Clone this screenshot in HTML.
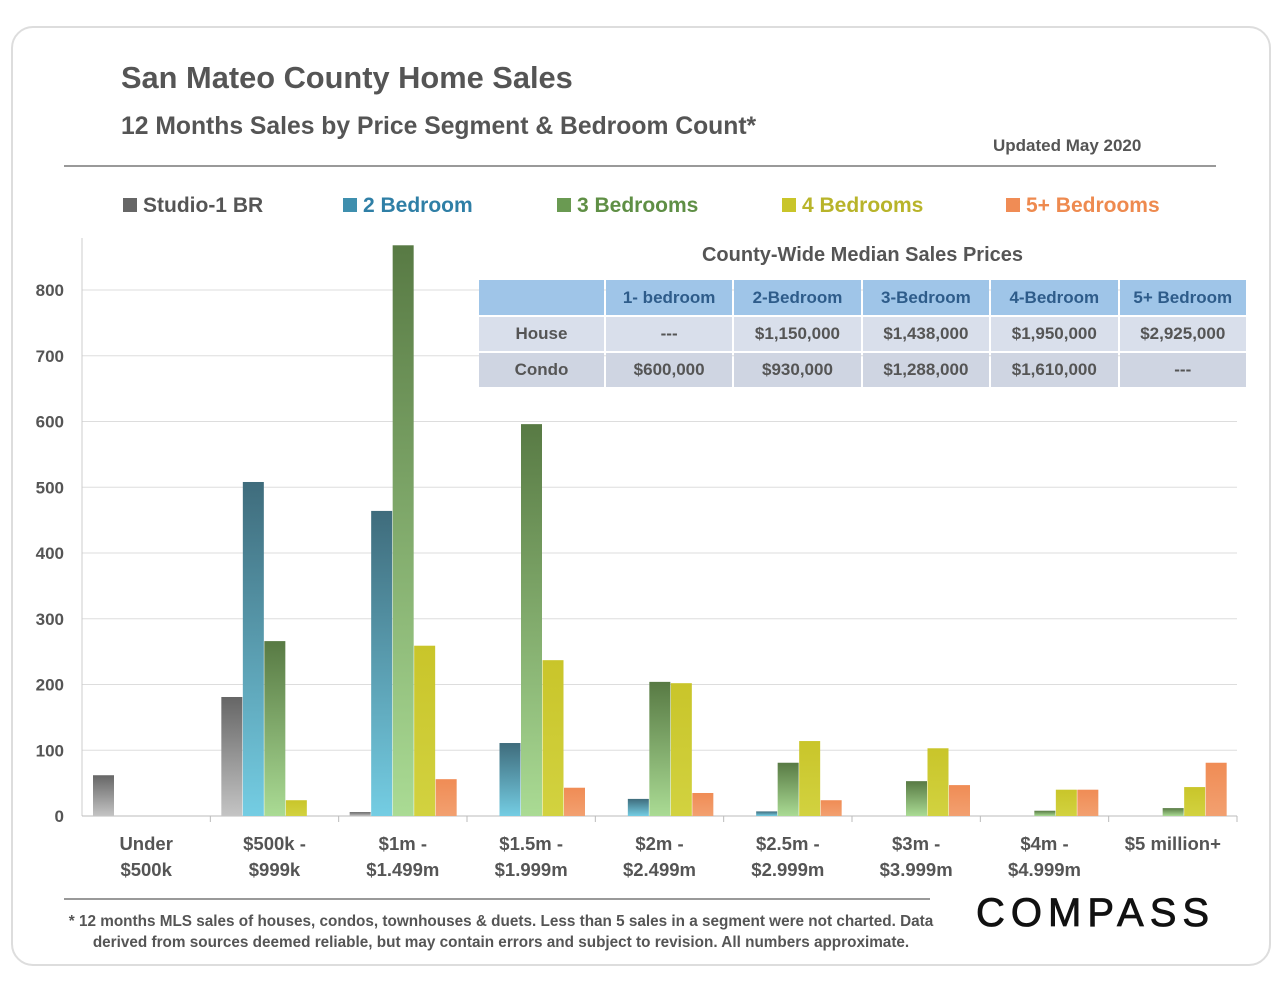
<!DOCTYPE html>
<html><head><meta charset="utf-8"><style>
body{margin:0;width:1280px;height:989px;background:#fff;font-family:"Liberation Sans",sans-serif;overflow:hidden}
.card{position:absolute;left:11px;top:26px;width:1256px;height:936px;border:2px solid #ddd;border-radius:22px}
.t{position:absolute;color:#555;font-weight:bold;white-space:nowrap}
</style></head><body>
<div class="card"></div>
<div class="t" style="left:121px;top:60px;font-size:30.8px">San Mateo County Home Sales</div>
<div class="t" style="left:121px;top:113px;font-size:24.7px">12 Months Sales by Price Segment &amp; Bedroom Count*</div>
<div class="t" style="left:993px;top:136px;font-size:17px">Updated May 2020</div>
<div style="position:absolute;left:64px;top:165px;width:1152px;height:2px;background:#999"></div>
<svg id="chart" width="1280" height="989" style="position:absolute;left:0;top:0">
<defs>
<linearGradient id="g0" x1="0" y1="0" x2="0" y2="1"><stop offset="0" stop-color="#666"/><stop offset="1" stop-color="#c4c4c4"/></linearGradient>
<linearGradient id="g1" x1="0" y1="0" x2="0" y2="1"><stop offset="0" stop-color="#3f6c7c"/><stop offset="1" stop-color="#74cde3"/></linearGradient>
<linearGradient id="g2" x1="0" y1="0" x2="0" y2="1"><stop offset="0" stop-color="#587a44"/><stop offset="1" stop-color="#aadb94"/></linearGradient>
<linearGradient id="g3" x1="0" y1="0" x2="0" y2="1"><stop offset="0" stop-color="#c9c52a"/><stop offset="1" stop-color="#d2d240"/></linearGradient>
<linearGradient id="g4" x1="0" y1="0" x2="0" y2="1"><stop offset="0" stop-color="#f08c55"/><stop offset="1" stop-color="#f2a070"/></linearGradient>
</defs>
</svg>
<div style="position:absolute;left:479px;top:240px;width:767px">
<div class="t" style="position:relative;text-align:center;left:0;width:767px;font-size:20px;top:4px">County-Wide Median Sales Prices</div>
<table style="position:absolute;top:40px;left:0;border-collapse:separate;border-spacing:2px 2px;margin:-2px;font-size:17px;font-weight:bold;color:#555;text-align:center">
<tr style="background:#9fc5e8;color:#2e5c8a;height:35px"><td style="width:124px"></td><td style="width:125px">1- bedroom</td><td style="width:125px">2-Bedroom</td><td style="width:125px">3-Bedroom</td><td style="width:125px">4-Bedroom</td><td style="width:125px">5+ Bedroom</td></tr>
<tr style="background:#d9dfeb;height:34px"><td>House</td><td>---</td><td>$1,150,000</td><td>$1,438,000</td><td>$1,950,000</td><td>$2,925,000</td></tr>
<tr style="background:#cfd5e2;height:34px"><td>Condo</td><td>$600,000</td><td>$930,000</td><td>$1,288,000</td><td>$1,610,000</td><td>---</td></tr>
</table></div>
<div style="position:absolute;left:64px;top:898px;width:866px;height:2px;background:#999"></div>
<div class="t" style="left:56px;top:911px;font-size:15.3px;line-height:21px;text-align:center;width:890px">* 12 months MLS sales of houses, condos, townhouses &amp; duets. Less than 5 sales in a segment were not charted. Data<br>derived from sources deemed reliable, but may contain errors and subject to revision. All numbers approximate.</div>
<div style="position:absolute;left:976px;top:891px;font-size:40px;letter-spacing:6px;color:#111;-webkit-text-stroke:0.8px #111;font-family:'Liberation Sans',sans-serif">COMPASS</div>
<script>
const categories=["Under\n$500k","$500k -\n$999k","$1m -\n$1.499m","$1.5m -\n$1.999m","$2m -\n$2.499m","$2.5m -\n$2.999m","$3m -\n$3.999m","$4m -\n$4.999m","$5 million+"];
const seriesNames=["Studio-1 BR","2 Bedroom","3 Bedrooms","4 Bedrooms","5+ Bedrooms"];
const studio=[62,181,6,0,0,0,0,0,0];
const bed2=[0,508,464,111,26,7,0,0,0];
const bed3=[0,266,868,596,204,81,53,8,12];
const bed4=[0,24,259,237,202,114,103,40,44];
const bed5=[0,0,56,43,35,24,47,40,81];
const yTicks=[0,100,200,300,400,500,600,700,800];
const series=[studio,bed2,bed3,bed4,bed5];
const legendColors=["#666","#3f8fae","#6a9a52","#c9c52a","#f08c55"];
const textColors=["#555","#2f7fa6","#5f8f45","#b8b42a","#ee8a4f"];
const NS="http://www.w3.org/2000/svg";
const svg=document.getElementById('chart');
const x0=82,x1=1237,y0=816,yPerUnit=526/800;
const gw=(x1-x0)/categories.length;
const y=v=>y0-v*yPerUnit;
function mk(t,a){const e=document.createElementNS(NS,t);for(const k in a)e.setAttribute(k,a[k]);svg.appendChild(e);return e;}
yTicks.forEach(v=>{
 if(v>0){const l=mk('line',{x1:x0,x2:x1,y1:y(v),y2:y(v),stroke:'#ddd','stroke-width':1});
 
 }
 const t=mk('text',{x:64,y:y(v)+6,'text-anchor':'end','font-size':17,'font-weight':'bold',fill:'#555','font-family':'Liberation Sans'});
 t.textContent=v;
 
 
});
const ax=mk('line',{x1:x0,x2:x0,y1:238,y2:y0,stroke:'#ccc'});


const bx=mk('line',{x1:x0,x2:x1,y1:y0,y2:y0,stroke:'#bbb'});


categories.forEach((c,i)=>{
 const gx=x0+i*gw;
 const tk=mk('line',{x1:gx+gw,x2:gx+gw,y1:y0,y2:y0+6,stroke:'#bbb'});
 
 
 series.forEach((s,j)=>{
  if(s[i]>0){const r=mk('rect',{x:gx+11+j*21.5,y:y(s[i]),width:21,height:s[i]*yPerUnit,fill:'url(#g'+j+')'});
  
  }
 });
 c.split("\n").forEach((ln,k)=>{
  const t=mk('text',{x:gx+gw/2,y:850+k*26,'text-anchor':'middle','font-size':18.5,'font-weight':'bold',fill:'#555','font-family':'Liberation Sans'});
  t.textContent=ln;
  
  
 });
});
const lx=[123,343,557,782,1006];
seriesNames.forEach((n,j)=>{
 const r=mk('rect',{x:lx[j],y:198,width:14,height:14,fill:legendColors[j]});
 
 
 const t=mk('text',{x:lx[j]+20,y:212,'font-size':21,'font-weight':'bold',fill:textColors[j],'font-family':'Liberation Sans'});
 t.textContent=n;
 
 
});
</script>
</body></html>
